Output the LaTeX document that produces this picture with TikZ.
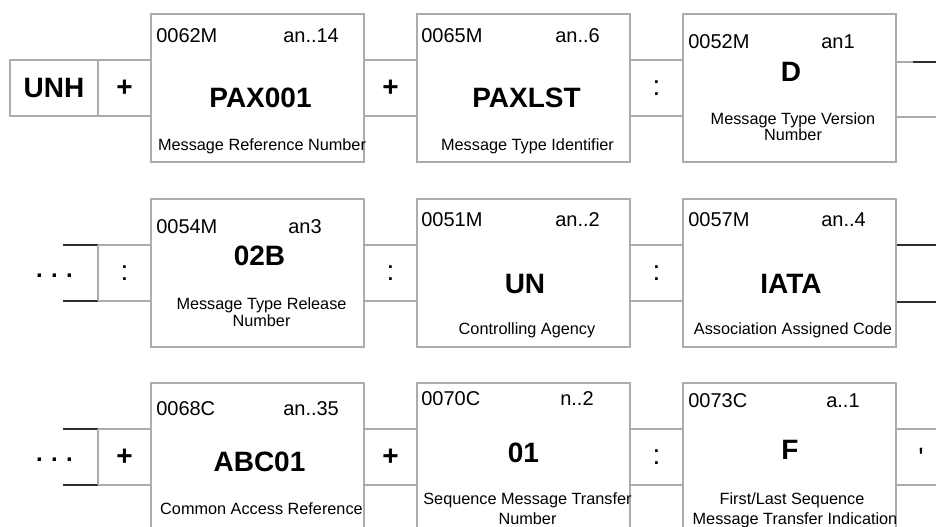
\documentclass[tikz,border=0pt]{standalone}
\usepackage{fontspec}
\setmainfont{Liberation Sans}
\definecolor{boxgray}{RGB}{172,172,172}
\definecolor{darkline}{RGB}{45,45,45}
\begin{document}
\begin{tikzpicture}[x=0.75pt,y=-0.75pt,
  box/.style={draw=boxgray, line width=0.9pt, rectangle, minimum width=159.75pt, minimum height=111pt, inner sep=0pt},
  cell/.style={draw=boxgray, line width=0.9pt, rectangle, minimum width=66pt, minimum height=42pt, inner sep=0pt},
  link/.style={draw=boxgray, line width=0.9pt},
  brk/.style={draw=darkline, line width=1.1pt},
  lab/.style={font=\fontsize{15}{18}\selectfont, anchor=base west, inner sep=0pt},
  big/.style={font=\fontsize{21}{25}\selectfont\bfseries, anchor=base, inner sep=0pt},
  desc/.style={font=\fontsize{12.2}{14}\selectfont, anchor=base, inner sep=0pt},
  sepb/.style={font=\fontsize{21}{25}\selectfont\bfseries, inner sep=0pt},
  sepr/.style={font=\fontsize{21}{25}\selectfont, inner sep=0pt},
  dots/.style={font=\fontsize{18}{22}\selectfont\bfseries, inner sep=0pt}
]
\useasboundingbox (0,0) rectangle (936,526);
\clip (0,0) rectangle (936,526);

% ---------- boxes ----------
\node[box] (b11) at (257.5,88) {};
\node[box] (b12) at (523.5,88) {};
\node[box] (b13) at (789.5,88) {};
\node[box] (b21) at (257.5,273) {};
\node[box] (b22) at (523.5,273) {};
\node[box] (b23) at (789.5,273) {};
\node[box] (b31) at (257.5,457) {};
\node[box] (b32) at (523.5,457) {};
\node[box] (b33) at (789.5,457) {};

% ---------- row 1 ----------
\node[cell, font=\fontsize{21}{25}\selectfont\bfseries] (unh) at (54,88) {UNH};
\draw[link] ([yshift=21pt]unh.east) -- ([yshift=21pt]b11.west);
\draw[link] ([yshift=-21pt]unh.east) -- ([yshift=-21pt]b11.west);
\node[sepb] (p10) at (124.5,88) {+};
\draw[link] ([yshift=21pt]b11.east) -- ([yshift=21pt]b12.west);
\draw[link] ([yshift=-21pt]b11.east) -- ([yshift=-21pt]b12.west);
\node[sepb] (p11) at (390.5,88) {+};
\draw[link] ([yshift=21pt]b12.east) -- ([yshift=21pt]b13.west);
\draw[link] ([yshift=-21pt]b12.east) -- ([yshift=-21pt]b13.west);
\node[sepr] (c12) at (656.5,88) {:};
\coordinate (r1t) at (940,62);
\coordinate (r1b) at (940,117);
\coordinate (r1d) at (913,62);
\draw[link] (b13.east |- r1t) -- (r1t);
\draw[brk] (r1d) -- (r1t);
\draw[link] (b13.east |- r1b) -- (r1b);

\node[lab] at (156,42) {0062M};
\node[lab] at (283,42) {an..14};
\node[big] at (260.5,107) {PAX001};
\node[desc] at (262,150) {Message Reference Number};

\node[lab] at (421,42) {0065M};
\node[lab] at (555,42) {an..6};
\node[big] at (526.5,107) {PAXLST};
\node[desc] at (527.5,150) {Message Type Identifier};

\node[lab] at (688,48) {0052M};
\node[lab] at (821,48) {an1};
\node[big] at (791,81) {D};
\node[desc] at (793,124) {Message Type Version};
\node[desc] at (793,140) {Number};

% ---------- row 2 ----------
\coordinate (l2t) at (63,245);
\coordinate (l2b) at (63,301);
\coordinate (k2t) at (98,245);
\coordinate (k2b) at (98,301);
\draw[brk] (l2t) -- (k2t);
\draw[brk] (l2b) -- (k2b);
\draw[link] (k2t) -- (k2b);
\draw[link] (k2t) -- (b21.west |- k2t);
\draw[link] (k2b) -- (b21.west |- k2b);
\node[dots] (d2) at (54.5,276) {.\hspace{6.3pt}.\hspace{6.3pt}.};
\node[sepr] (c20) at (124.5,273) {:};
\draw[link] ([yshift=21pt]b21.east) -- ([yshift=21pt]b22.west);
\draw[link] ([yshift=-21pt]b21.east) -- ([yshift=-21pt]b22.west);
\node[sepr] (c21) at (390.5,273) {:};
\draw[link] ([yshift=21pt]b22.east) -- ([yshift=21pt]b23.west);
\draw[link] ([yshift=-21pt]b22.east) -- ([yshift=-21pt]b23.west);
\node[sepr] (c22) at (656.5,273) {:};
\coordinate (r2t) at (940,245);
\coordinate (r2b) at (940,302);
\draw[brk] (b23.east |- r2t) -- (r2t);
\draw[brk] (b23.east |- r2b) -- (r2b);

\node[lab] at (156,233) {0054M};
\node[lab] at (288,233) {an3};
\node[big] at (259.5,265) {02B};
\node[desc] at (261.5,309) {Message Type Release};
\node[desc] at (261.5,326) {Number};

\node[lab] at (421,226) {0051M};
\node[lab] at (555,226) {an..2};
\node[big] at (525,293) {UN};
\node[desc] at (527,334) {Controlling Agency};

\node[lab] at (688,226) {0057M};
\node[lab] at (821,226) {an..4};
\node[big] at (791,293) {IATA};
\node[desc] at (793,334) {Association Assigned Code};

% ---------- row 3 ----------
\coordinate (l3t) at (63,429);
\coordinate (l3b) at (63,485);
\coordinate (k3t) at (98,429);
\coordinate (k3b) at (98,485);
\draw[brk] (l3t) -- (k3t);
\draw[brk] (l3b) -- (k3b);
\draw[link] (k3t) -- (k3b);
\draw[link] (k3t) -- (b31.west |- k3t);
\draw[link] (k3b) -- (b31.west |- k3b);
\node[dots] (d3) at (54.5,460) {.\hspace{6.3pt}.\hspace{6.3pt}.};
\node[sepb] (p30) at (124.5,457) {+};
\draw[link] ([yshift=21pt]b31.east) -- ([yshift=21pt]b32.west);
\draw[link] ([yshift=-21pt]b31.east) -- ([yshift=-21pt]b32.west);
\node[sepb] (p31) at (390.5,457) {+};
\draw[link] ([yshift=21pt]b32.east) -- ([yshift=21pt]b33.west);
\draw[link] ([yshift=-21pt]b32.east) -- ([yshift=-21pt]b33.west);
\node[sepr] (c32) at (656.5,457) {:};
\coordinate (r3t) at (940,429);
\coordinate (r3b) at (940,485);
\draw[link] (b33.east |- r3t) -- (r3t);
\draw[link] (b33.east |- r3b) -- (r3b);
\node[sepr, anchor=base] (q3) at (921,467) {\textquotesingle};

\node[lab] at (156,415) {0068C};
\node[lab] at (283,415) {an..35};
\node[big] at (259.5,471) {ABC01};
\node[desc] at (261.5,514) {Common Access Reference};

\node[lab] at (421,405) {0070C};
\node[lab] at (560,405) {n..2};
\node[big] at (523.5,462) {01};
\node[desc] at (527.5,504) {Sequence Message Transfer};
\node[desc] at (527.5,524) {Number};

\node[lab] at (688,407) {0073C};
\node[lab] at (826,407) {a..1};
\node[big] at (790,459) {F};
\node[desc] at (792,504) {First/Last Sequence};
\node[desc] at (795,524) {Message Transfer Indication};
\end{tikzpicture}
\end{document}
